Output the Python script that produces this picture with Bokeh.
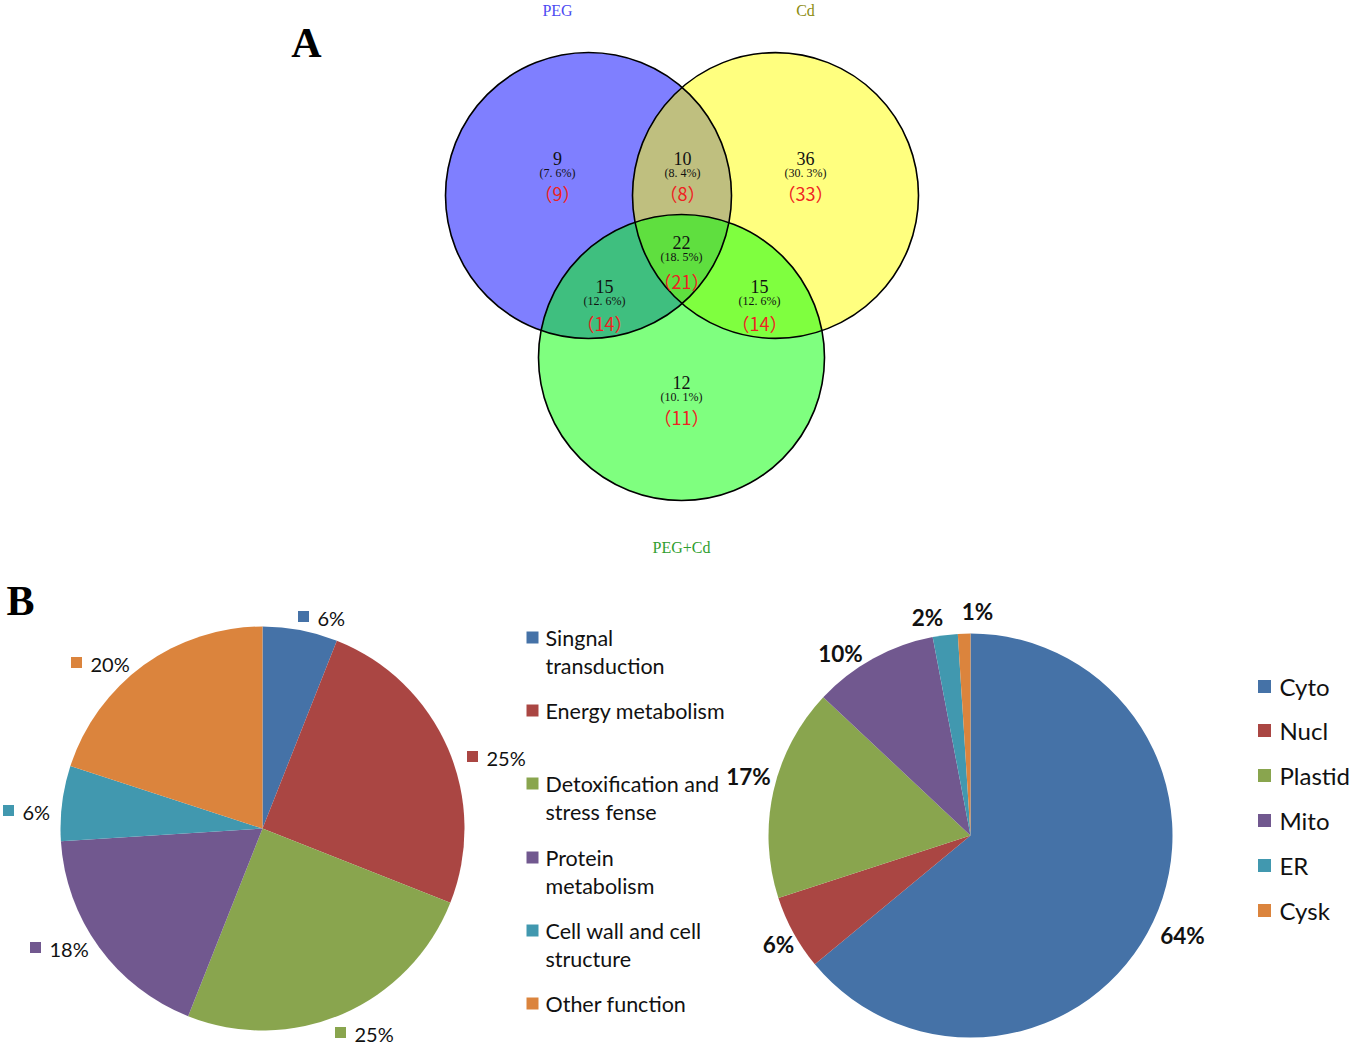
import math
from bokeh.plotting import figure
from bokeh.models import Range1d
from bokeh.core.properties import value
from bokeh.embed import file_html
from bokeh.resources import INLINE

# ---------------- data ----------------
venn_sets = ["PEG", "Cd", "PEG+Cd"]
venn_counts = [9, 10, 36, 22, 15, 15, 12]          # PEG, PEG∩Cd, Cd, all, PEG∩PC, Cd∩PC, PC
venn_pcts = ["(7. 6%)", "(8. 4%)", "(30. 3%)", "(18. 5%)", "(12. 6%)", "(12. 6%)", "(10. 1%)"]
venn_red = [9, 8, 33, 21, 14, 14, 11]

func_cats = ["Singnal transduction", "Energy metabolism", "Detoxification and stress fense",
             "Protein metabolism", "Cell wall and cell structure", "Other function"]
func_pct = [6, 25, 25, 18, 6, 20]

loc_cats = ["Cyto", "Nucl", "Plastid", "Mito", "ER", "Cysk"]
loc_pct = [64, 6, 17, 10, 2, 1]

# ---------------- styling / layout ----------------
W, H = 1350, 1045
def Y(py):
    return H - py

colors6 = ["#4572A7", "#AA4643", "#89A54E", "#71588F", "#4198AF", "#DB843D"]
serif = value("Liberation Serif")
sans = value("Lato")

p = figure(width=W, height=H, x_range=Range1d(0, W), y_range=Range1d(0, H),
           output_backend="svg", toolbar_location=None, min_border=0)
p.axis.visible = False
p.grid.visible = False
p.outline_line_color = None
p.background_fill_color = "white"
p.border_fill_color = "white"

# ---------------- Venn (A) ----------------
circ_x = [588, 775, 681]
circ_y = [195, 195, 357]
circ_r = 143
circ_fill = ["#0000FF", "#FFFF00", "#00FF00"]
for cx, cy, c in zip(circ_x, circ_y, circ_fill):
    p.circle(x=cx, y=Y(cy), radius=circ_r, fill_color=c, fill_alpha=0.5, line_color=None)
for cx, cy in zip(circ_x, circ_y):
    p.circle(x=cx, y=Y(cy), radius=circ_r, fill_color=None, line_color="black", line_width=1.6)

reg_x = [557, 682, 805, 681, 604, 759, 681]
reg_y = [158, 158, 158, 242, 286, 286, 382]
red_dy = [34, 34, 34, 38, 36, 36, 34]
for i in range(7):
    x0, y0 = reg_x[i], reg_y[i]
    p.text(x=[x0], y=[Y(y0)], text=[str(venn_counts[i])], text_font=serif, text_font_size="18px",
           text_align="center", text_baseline="middle", text_color="#111111")
    p.text(x=[x0], y=[Y(y0 + 14)], text=[venn_pcts[i]], text_font=serif, text_font_size="12px",
           text_align="center", text_baseline="middle", text_color="#111111")
    p.text(x=[x0], y=[Y(y0 + red_dy[i])], text=["（%d）" % venn_red[i]], text_font=value("Noto Sans CJK TC"),
           text_font_size="18px", text_align="center", text_baseline="middle", text_color="#EE2222")

title_x = [557, 805, 681]
title_y = [10, 10, 547]
title_c = ["#4B4BF2", "#8C8C10", "#2E9E2E"]
for t, tx, ty, tc in zip(venn_sets, title_x, title_y, title_c):
    p.text(x=[tx], y=[Y(ty)], text=[t], text_font=serif, text_font_size="16px",
           text_align="center", text_baseline="middle", text_color=tc)

p.text(x=[306], y=[Y(42)], text=["A"], text_font=serif, text_font_size="42px", text_font_style="bold",
       text_align="center", text_baseline="middle", text_color="black")
p.text(x=[20], y=[Y(600)], text=["B"], text_font=serif, text_font_size="42px", text_font_style="bold",
       text_align="center", text_baseline="middle", text_color="black")

# ---------------- pies ----------------
def draw_pie(cx, cy, r, vals):
    tot = float(sum(vals))
    cum = 0.0
    for v, c in zip(vals, colors6):
        t1 = cum / tot * 2 * math.pi
        cum += v
        t2 = cum / tot * 2 * math.pi
        p.wedge(x=cx, y=Y(cy), radius=r, start_angle=math.pi / 2 - t2, end_angle=math.pi / 2 - t1,
                fill_color=c, line_color=None)

draw_pie(262, 828, 202, func_pct)
draw_pie(970, 835, 202, loc_pct)

# pie 1 labels (square + percent)
lab1_x = [303, 472, 340, 35, 8, 76]
lab1_y = [616, 756, 1032, 947, 810, 662]
for i in range(6):
    p.scatter(x=[lab1_x[i]], y=[Y(lab1_y[i])], marker="square", size=11, fill_color=colors6[i], line_color=None)
    p.text(x=[lab1_x[i] + 14], y=[Y(lab1_y[i] + 1)], text=["%d%%" % func_pct[i]], text_font=sans,
           text_font_size="20px", text_align="left", text_baseline="middle", text_color="#111111")

# legend 1
leg1_lines = [["Singnal", "transduction"], ["Energy metabolism"], ["Detoxification and", "stress fense"],
              ["Protein", "metabolism"], ["Cell wall and cell", "structure"], ["Other function"]]
leg1_y = [637, 710, 783, 857, 930, 1003]
for i in range(6):
    p.scatter(x=[532], y=[Y(leg1_y[i])], marker="square", size=12, fill_color=colors6[i], line_color=None)
    for j, ln in enumerate(leg1_lines[i]):
        p.text(x=[545], y=[Y(leg1_y[i] + 28.5 * j)], text=[ln], text_font=sans, text_font_size="21.5px",
               text_align="left", text_baseline="middle", text_color="#111111")

# pie 2 labels
lab2_x = [1182, 778, 748, 840, 927, 977]
lab2_y = [935, 944, 776, 653, 617, 611]
for i in range(6):
    p.text(x=[lab2_x[i]], y=[Y(lab2_y[i])], text=["%d%%" % loc_pct[i]], text_font=sans,
           text_font_size="22.5px", text_font_style="bold", text_align="center", text_baseline="middle",
           text_color="#111111")

# legend 2
leg2_y = [686, 730, 775, 820, 865, 910]
for i in range(6):
    p.scatter(x=[1264], y=[Y(leg2_y[i])], marker="square", size=13, fill_color=colors6[i], line_color=None)
    p.text(x=[1279], y=[Y(leg2_y[i])], text=[loc_cats[i]], text_font=sans, text_font_size="24px",
           text_align="left", text_baseline="middle", text_color="#111111")

open("out.html", "w").write(file_html(p, INLINE))
